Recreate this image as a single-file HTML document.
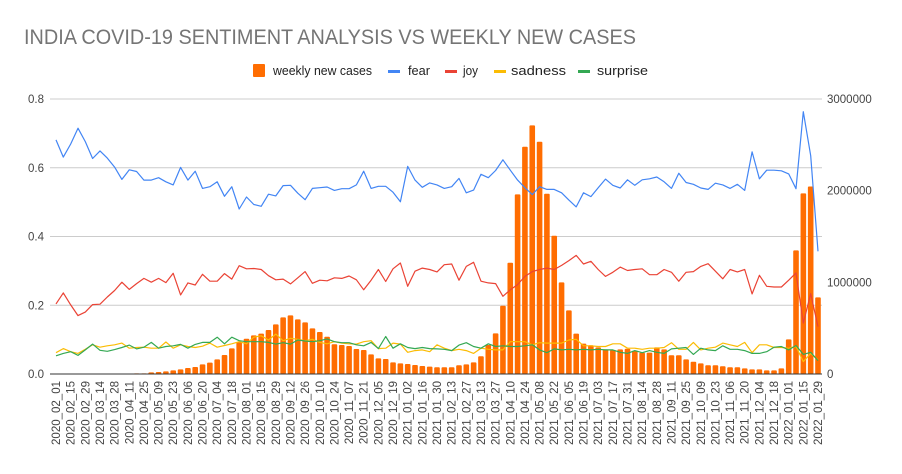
<!DOCTYPE html>
<html><head><meta charset="utf-8"><style>
body{margin:0;background:#fff}
svg{display:block;font-family:"Liberation Sans",sans-serif}
</style></head><body>
<svg id="chart" width="902" height="474">
<rect width="902" height="474" fill="#fff"/>
<text x="24" y="44" font-size="21" fill="#757575" textLength="612" lengthAdjust="spacingAndGlyphs">INDIA COVID-19 SENTIMENT ANALYSIS VS WEEKLY NEW CASES</text>
<g font-size="12.5" fill="#222">
 <g><rect x="253" y="64" width="12" height="13" rx="1" fill="#ff6d01"/><text x="273" y="75" textLength="99" lengthAdjust="spacingAndGlyphs">weekly new cases</text></g>
 <g><rect x="388" y="70" width="12" height="3" fill="#4285f4"/><text x="408" y="75" textLength="22" lengthAdjust="spacingAndGlyphs">fear</text></g>
 <g><rect x="445" y="70" width="12" height="3" fill="#ea4335"/><text x="463" y="75" textLength="15" lengthAdjust="spacingAndGlyphs">joy</text></g>
 <g><rect x="494" y="70" width="12" height="3" fill="#fbbc04"/><text x="511" y="75" textLength="55" lengthAdjust="spacingAndGlyphs">sadness</text></g>
 <g><rect x="578" y="70" width="12" height="3" fill="#34a853"/><text x="597" y="75" textLength="51" lengthAdjust="spacingAndGlyphs">surprise</text></g>
</g>
<g id="grid"></g><g id="bars"></g><g id="lines"></g><g id="axes"></g>
</svg>
<script>
const leftTicks=[0,0.2,0.4,0.6,0.8];
const leftTickLabels=["0.0","0.2","0.4","0.6","0.8"];
const rightTicks=[0,1000000,2000000,3000000];
const rightTickLabels=["0","1000000","2000000","3000000"];
const startDate="2020-02-01";
const cases=[0,0,0,0,0,0,0,0,0,0,0,7000,7000,18000,22000,29000,40000,51000,65000,76000,105000,124000,160000,207000,280000,345000,385000,422000,440000,480000,542000,618000,640000,596000,563000,498000,458000,407000,324000,316000,305000,273000,262000,214000,171000,164000,127000,116000,109000,98000,87000,80000,73000,73000,73000,95000,105000,127000,193000,316000,443000,745000,1214000,1959000,2479000,2712000,2534000,1966000,1508000,1000000,694000,440000,331000,313000,291000,269000,262000,269000,276000,254000,233000,233000,291000,269000,204000,204000,160000,134000,116000,95000,95000,84000,73000,73000,62000,51000,51000,40000,40000,62000,378000,1349000,1970000,2046000,836000];
const fear=[.681,.631,.669,.715,.676,.627,.649,.628,.602,.566,.594,.589,.564,.564,.571,.559,.550,.601,.564,.590,.540,.545,.559,.517,.545,.480,.515,.493,.488,.523,.518,.548,.549,.526,.507,.540,.542,.544,.534,.539,.539,.550,.590,.540,.546,.546,.529,.501,.604,.564,.543,.556,
.550,.540,.545,.569,.527,.535,.581,.571,.592,.623,.593,.564,.542,.522,.545,.537,.537,.527,.506,.486,.527,.516,.542,.567,.549,.541,.565,.549,.565,.568,.573,.559,.540,.584,.557,.552,.541,.537,.555,.550,.540,.552,.534,.646,.568,.593,.593,.591,.582,.539,.763,.635,.357];
const joy=[.204,.236,.201,.170,.180,.202,.203,.224,.243,.267,.246,.263,.278,.267,.278,.266,.293,.230,.265,.259,.290,.270,.270,.292,.276,.315,.306,.307,.304,.286,.274,.276,.262,.280,.298,.264,.273,.271,.280,.278,.285,.274,.245,.273,.304,.269,.306,.323,.255,.299,.308,.304,
.297,.318,.320,.273,.313,.325,.270,.265,.263,.226,.245,.260,.284,.298,.304,.308,.304,.316,.330,.345,.320,.328,.304,.284,.296,.311,.301,.304,.306,.289,.289,.304,.296,.270,.296,.298,.313,.321,.299,.277,.304,.297,.304,.233,.287,.255,.253,.253,.273,.294,.148,.234,.138];
const sadness=[.062,.074,.065,.060,.072,.085,.078,.082,.085,.090,.075,.077,.078,.075,.075,.093,.075,.085,.080,.077,.081,.090,.078,.083,.088,.094,.088,.107,.111,.099,.116,.097,.104,.101,.097,.101,.092,.088,.094,.090,.088,.087,.094,.097,.074,.075,.090,.087,.063,.068,.070,.065,
.085,.075,.068,.072,.068,.060,.075,.072,.070,.070,.094,.094,.094,.085,.091,.090,.090,.090,.099,.101,.082,.082,.080,.080,.088,.088,.075,.075,.072,.075,.075,.077,.091,.072,.072,.092,.070,.075,.078,.090,.085,.080,.092,.062,.085,.085,.077,.077,.075,.080,.036,.060,.041];
const surprise=[.053,.060,.065,.054,.070,.087,.069,.066,.071,.077,.084,.073,.078,.092,.075,.080,.082,.086,.075,.086,.092,.092,.107,.088,.107,.097,.094,.094,.094,.092,.087,.091,.087,.099,.096,.094,.097,.102,.094,.091,.091,.085,.082,.092,.074,.109,.075,.088,.077,.074,.077,.074,
.073,.072,.068,.084,.091,.080,.075,.088,.080,.082,.080,.080,.082,.085,.070,.062,.073,.070,.072,.070,.072,.070,.072,.070,.070,.063,.060,.068,.062,.068,.063,.060,.073,.075,.077,.057,.075,.070,.068,.082,.072,.072,.068,.060,.060,.065,.078,.080,.070,.083,.057,.063,.039];

const NS="http://www.w3.org/2000/svg";
const X0=56,X1=818,YT=99,YB=374;
const n=cases.length;
function xs(i){return X0+(X1-X0)*i/(n-1);}
function yl(v){return YB-(YB-YT)*v/0.8;}
function yr(v){return YB-(YB-YT)*v/3000000;}
function mk(tag,attrs,parent){const e=document.createElementNS(NS,tag);for(const k in attrs)e.setAttribute(k,attrs[k]);parent.appendChild(e);return e;}
const grid=document.getElementById('grid'),bars=document.getElementById('bars'),lines=document.getElementById('lines'),axes=document.getElementById('axes');
leftTicks.forEach((t,k)=>{
  if(t>0){const g=mk('line',{x1:50,x2:822,y1:yl(t),y2:yl(t),stroke:'#ccc','stroke-width':1},grid);
  
  }
  const tx=mk('text',{x:44,y:yl(t)+4,'text-anchor':'end','font-size':11.5,fill:'#444'},axes);
  tx.textContent=leftTickLabels[k];
  
  
});
rightTicks.forEach((t,k)=>{
  const tx=mk('text',{x:827,y:yr(t)+4,'font-size':11.5,fill:'#444'},axes);
  tx.textContent=rightTickLabels[k];
  
  
});
cases.forEach((v,i)=>{
  if(v<=0)return;
  const h=YB-yr(v);
  const r=mk('rect',{x:xs(i)-2.8,y:yr(v),width:5.6,height:h,rx:1,fill:'#ff6d01'},bars);
  
  
});
const series=[[fear,'#4285f4','line-fear'],[joy,'#ea4335','line-joy'],[sadness,'#fbbc04','line-sadness'],[surprise,'#34a853','line-surprise']];
series.forEach(s=>{
  const d=s[0].map((v,i)=>(i?'L':'M')+xs(i).toFixed(1)+' '+yl(v).toFixed(1)).join(' ');
  const p=mk('path',{d:d,fill:'none',stroke:s[1],'stroke-width':1.2,'stroke-linejoin':'round'},lines);
  
  
});
const base=mk('line',{x1:50,x2:822,y1:YB,y2:YB,stroke:'#333','stroke-width':1},axes);


const sd=new Date(startDate+'T00:00:00Z');
for(let i=0;i<n;i+=2){
  const d=new Date(sd.getTime()+i*7*86400000);
  const lab=d.getUTCFullYear()+'_'+String(d.getUTCMonth()+1).padStart(2,'0')+'_'+String(d.getUTCDate()).padStart(2,'0');
  const x=xs(i)+4,y=381;
  const tx=mk('text',{x:x,y:y,'text-anchor':'end','font-size':11.5,fill:'#444',transform:'rotate(-90 '+x+' '+y+')'},axes);
  tx.textContent=lab;
  
  
}
</script>
</body></html>
